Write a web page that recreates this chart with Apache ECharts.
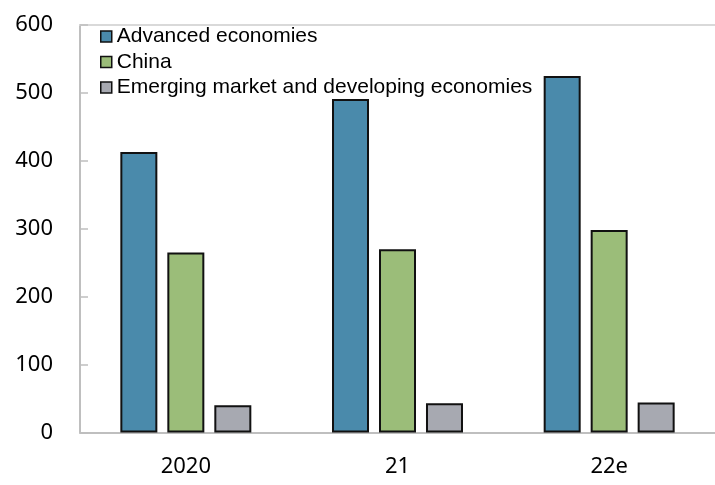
<!DOCTYPE html>
<html>
<head>
<meta charset="utf-8">
<script src="https://cdn.jsdelivr.net/npm/echarts@6/dist/echarts.min.js"></script>
<style>html,body{margin:0;padding:0;background:#fff;overflow:hidden}#c{width:715px;height:485px}</style>
</head>
<body>
<div id="c"></div>
<script>
const categories = ['2020', '21', '22e'];
const advanced = [413, 491, 525];
const china = [265, 270, 298];
const emde = [40, 43, 44];
const yTicks = [0, 100, 200, 300, 400, 500, 600];

const chart = echarts.init(document.getElementById('c'), null, {renderer: 'canvas'});
const barStyle = c => ({color: c, borderColor: '#111', borderWidth: 2});
chart.setOption({
  animation: false,
  backgroundColor: '#fff',
  grid: {left: 80, top: 25, width: 639, height: 407.5, show: false},
  legend: {
    orient: 'vertical', left: 100, top: 26, padding: 0, itemGap: 4.5,
    itemWidth: 11, itemHeight: 11, icon: 'rect',
    textStyle: {fontFamily: 'Liberation Sans, Arial', fontSize: 21, color: '#000'},
    itemStyle: {borderColor: '#111', borderWidth: 1.5},
    data: ['Advanced economies', 'China', 'Emerging market and developing economies']
  },
  xAxis: [{
    type: 'category', data: categories,
    axisLine: {lineStyle: {color: '#bfbfbf', width: 2}},
    axisTick: {inside: true, length: 8, lineStyle: {color: '#bfbfbf', width: 1.5}},
    axisLabel: {margin: 23, fontFamily: 'Noto Sans', fontSize: 22, color: '#000'}
  }, {
    type: 'category', data: categories, position: 'top',
    axisLine: {show: true, lineStyle: {color: '#d9d9d9', width: 2}},
    axisTick: {show: false}, axisLabel: {show: false}
  }],
  yAxis: {
    type: 'value', min: yTicks[0], max: yTicks[yTicks.length - 1], interval: 100,
    axisLine: {show: true, lineStyle: {color: '#bfbfbf', width: 2}},
    axisTick: {show: true, inside: true, length: 8, lineStyle: {color: '#bfbfbf', width: 1.5}},
    splitLine: {show: false},
    axisLabel: {margin: 27, fontFamily: 'Noto Sans', fontSize: 22, color: '#000'}
  },
  series: [
    {name: 'Advanced economies', type: 'bar', data: advanced, barWidth: 37, barGap: '27%', itemStyle: barStyle('#4a8aab')},
    {name: 'China', type: 'bar', data: china, barWidth: 37, barGap: '27%', itemStyle: barStyle('#9bbd79')},
    {name: 'Emerging market and developing economies', type: 'bar', data: emde, barWidth: 37, barGap: '27%', itemStyle: barStyle('#a7a9b1')}
  ]
});
</script>
</body>
</html>
